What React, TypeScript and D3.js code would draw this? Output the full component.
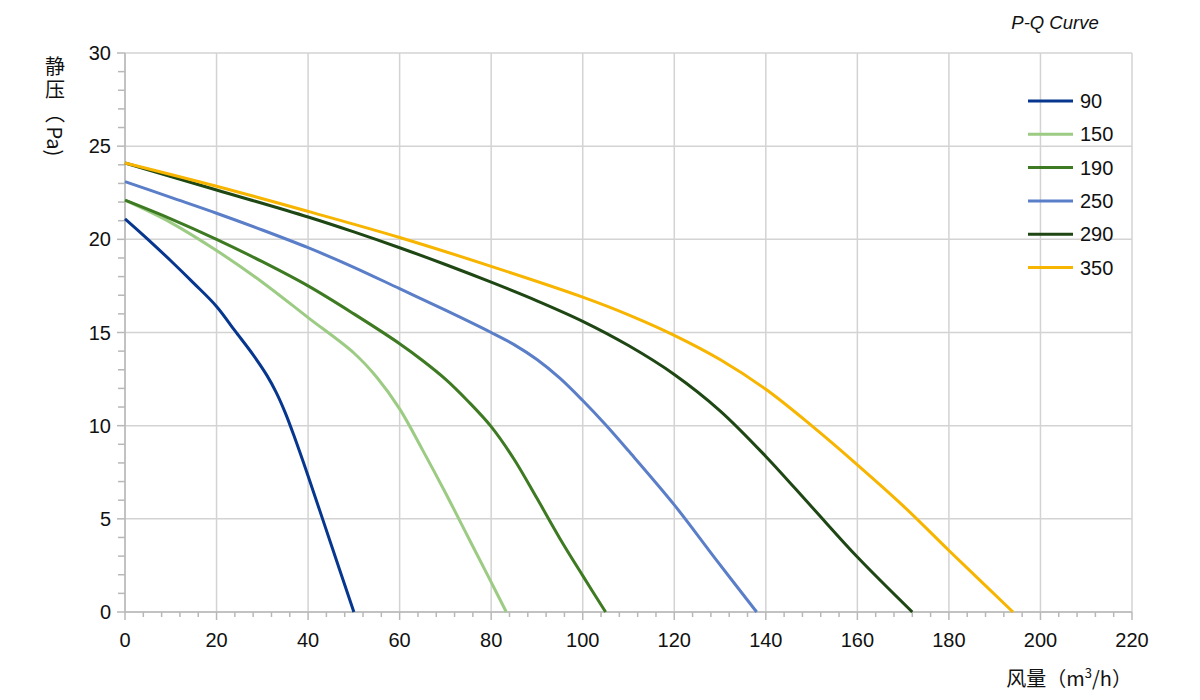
import React from 'react';
import * as d3 from 'd3';

type Pt = [number, number];

const seriesNames = ['90', '150', '190', '250', '290', '350'];
const seriesColors = ['#06368e', '#9ccb83', '#3d7a22', '#5b7ec8', '#1e4714', '#f7b500'];

// airflow (m3/h), static pressure (Pa)
const s90: Pt[] = [[0, 21.1], [5, 20.0], [10, 18.85], [15, 17.65], [20, 16.4], [24, 15.1], [28, 13.8], [31, 12.7], [33, 11.8], [35, 10.7], [37, 9.4], [40, 7.3], [45, 3.65], [50, 0]];
const s150: Pt[] = [[0, 22.1], [10, 20.9], [20, 19.4], [30, 17.7], [40, 15.8], [50, 13.9], [55, 12.6], [60, 10.9], [65, 8.7], [70, 6.4], [75, 4.0], [80, 1.6], [83.3, 0]];
const s190: Pt[] = [[0, 22.1], [10, 21.1], [20, 20.0], [30, 18.8], [40, 17.5], [50, 16.0], [60, 14.4], [65, 13.5], [70, 12.5], [75, 11.3], [80, 9.95], [85, 8.2], [90, 6.1], [95, 3.95], [100, 1.95], [105, 0]];
const s250: Pt[] = [[0, 23.1], [10, 22.25], [20, 21.4], [30, 20.5], [40, 19.55], [50, 18.5], [60, 17.35], [70, 16.2], [80, 15.0], [85, 14.35], [90, 13.55], [95, 12.55], [100, 11.35], [105, 10.05], [110, 8.65], [120, 5.75], [129, 2.85], [138, 0]];
const s290: Pt[] = [[0, 24.1], [20, 22.65], [40, 21.2], [50, 20.4], [60, 19.55], [70, 18.65], [80, 17.7], [90, 16.7], [100, 15.6], [110, 14.3], [120, 12.75], [130, 10.8], [140, 8.35], [150, 5.65], [160, 2.95], [172, 0]];
const s350: Pt[] = [[0, 24.1], [20, 22.85], [40, 21.5], [60, 20.1], [80, 18.55], [100, 16.9], [110, 15.95], [120, 14.85], [130, 13.55], [140, 11.95], [150, 10.0], [160, 7.9], [170, 5.7], [180, 3.3], [194, 0]];

const seriesData = [s90, s150, s190, s250, s290, s350];

const xTicks = [0, 20, 40, 60, 80, 100, 120, 140, 160, 180, 200, 220];
const yTicks = [0, 5, 10, 15, 20, 25, 30];
const xMinor = d3.range(0, 221, 4);
const yMinor = d3.range(0, 31, 1);

const FONT = '"Liberation Sans", Arial, sans-serif';
const CJK = '"Noto Sans CJK SC", "Liberation Sans", sans-serif';

export default function App() {
  const x = d3.scaleLinear().domain([0, 220]).range([125, 1132]);
  const y = d3.scaleLinear().domain([0, 30]).range([612, 53]);

  const line = d3.line<Pt>()
    .x(d => x(d[0]))
    .y(d => y(d[1]))
    .curve(d3.curveCatmullRom.alpha(0.5));

  const grid = '#d3d3d3';
  const axisCol = '#b8b8b8';

  return (
    <svg width={1200} height={700} style={{ position: 'absolute', left: 0, top: 0, background: '#fff' }}>
      {/* grid */}
      {xTicks.map(t => (
        <line key={'gx' + t} x1={x(t)} x2={x(t)} y1={y(30)} y2={y(0)} stroke={grid} strokeWidth={1.5} />
      ))}
      {yTicks.map(t => (
        <line key={'gy' + t} x1={x(0)} x2={x(220)} y1={y(t)} y2={y(t)} stroke={grid} strokeWidth={1.5} />
      ))}

      {/* minor ticks */}
      {yMinor.map(t => (
        <line key={'my' + t} x1={x(0) - (t % 5 === 0 ? 8 : 7)} x2={x(0)} y1={y(t)} y2={y(t)} stroke={axisCol} strokeWidth={1.5} />
      ))}
      {xMinor.map(t => (
        <line key={'mx' + t} x1={x(t)} x2={x(t)} y1={y(0)} y2={y(0) + (t % 20 === 0 ? 8 : 5)} stroke={axisCol} strokeWidth={1.5} />
      ))}

      {/* axis lines */}
      <line x1={x(0)} x2={x(0)} y1={y(30)} y2={y(0)} stroke={axisCol} strokeWidth={1.5} />
      <line x1={x(0)} x2={x(220)} y1={y(0)} y2={y(0)} stroke={axisCol} strokeWidth={1.5} />

      {/* tick labels */}
      {yTicks.map(t => (
        <text key={'ly' + t} x={111} y={y(t)} dy="0.35em" textAnchor="end" fontFamily={FONT} fontSize={20} fill="#111">{t}</text>
      ))}
      {xTicks.map(t => (
        <text key={'lx' + t} x={x(t)} y={647} textAnchor="middle" fontFamily={FONT} fontSize={20} fill="#111">{t}</text>
      ))}

      {/* series */}
      {seriesData.map((d, i) => (
        <path key={seriesNames[i]} d={line(d) || ''} fill="none" stroke={seriesColors[i]} strokeWidth={3} />
      ))}

      {/* legend */}
      {seriesNames.map((n, i) => {
        const ly = 101 + i * 33.3;
        return (
          <g key={'lg' + n}>
            <line x1={1028} x2={1073} y1={ly} y2={ly} stroke={seriesColors[i]} strokeWidth={3} />
            <text x={1080} y={ly} dy="0.35em" fontFamily={FONT} fontSize={20} fill="#111">{n}</text>
          </g>
        );
      })}

      {/* title */}
      <text x={1055} y={29} textAnchor="middle" fontFamily={FONT} fontSize={18.5} fontStyle="italic" fill="#111">P-Q Curve</text>

      {/* x axis title */}
      <text x={1132} y={686} textAnchor="end" fontFamily={CJK} fontSize={20} fill="#111">
        风量（m<tspan dy={-8} fontSize={13}>3</tspan><tspan dy={8}>/h）</tspan>
      </text>

      {/* y axis title, vertical */}
      <text x={55} y={56} style={{ writingMode: 'vertical-rl' }} fontFamily={CJK} fontSize={20} fill="#111">
        <tspan style={{ letterSpacing: '3.5px' }}>静压（</tspan>Pa)
      </text>
    </svg>
  );
}
